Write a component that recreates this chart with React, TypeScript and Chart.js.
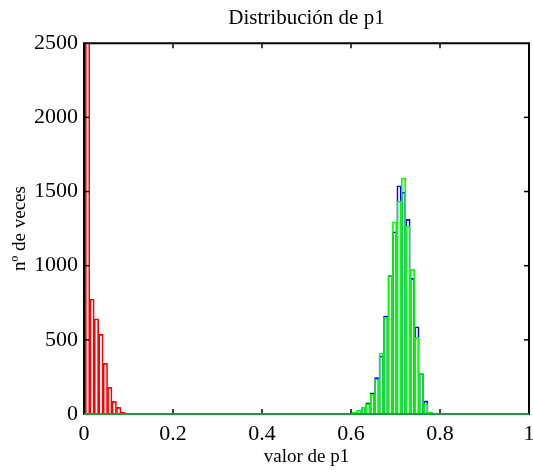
import React, { useEffect, useRef } from 'react';
import { Chart, registerables } from 'chart.js';

Chart.register(...registerables);

// Histogram bin centres (value of p1) and counts per bin
const redBins = [0.008, 0.018, 0.028, 0.038, 0.048, 0.058, 0.068, 0.078, 0.088, 0.098, 0.108];
const redCounts = [7375, 775, 642, 537, 341, 180, 85, 45, 13, 5, 2];

const peakBins = [0.588, 0.598, 0.608, 0.618, 0.628, 0.638, 0.648, 0.658, 0.668, 0.678,
  0.688, 0.698, 0.708, 0.718, 0.728, 0.738, 0.748, 0.758, 0.768, 0.778];
const blueCounts = [2, 5, 11, 27, 47, 76, 143, 245, 391, 660,
  934, 1229, 1539, 1496, 1312, 914, 588, 274, 88, 11];
const greenCounts = [2, 4, 11, 27, 45, 69, 133, 236, 411, 651,
  937, 1296, 1435, 1593, 1269, 975, 517, 276, 70, 11];

const xTicks = [0, 0.2, 0.4, 0.6, 0.8, 1];
const yTicks = [0, 500, 1000, 1500, 2000, 2500];

const titleText = 'Distribución de p1';
const xLabel = 'valor de p1';
const yLabel = 'nº de veces';

const FONT = "'Liberation Serif', 'Times New Roman', Times, serif";

const boxPlugin = {
  id: 'matlabBox',
  afterDraw(chart: any) {
    const { ctx, chartArea: a, scales } = chart;
    const line = (x1: number, y1: number, x2: number, y2: number) => {
      ctx.beginPath();
      ctx.moveTo(x1, y1);
      ctx.lineTo(x2, y2);
      ctx.stroke();
    };
    ctx.save();
    ctx.strokeStyle = '#000';
    ctx.lineWidth = 1.5;
    const tl = 5;
    xTicks.slice(1, -1).forEach((v) => {
      const px = scales.x.getPixelForValue(v);
      line(px, a.bottom, px, a.bottom - tl);
      line(px, a.top, px, a.top + tl);
    });
    yTicks.slice(1, -1).forEach((v) => {
      const py = scales.y.getPixelForValue(v);
      line(a.left, py, a.left + tl, py);
      line(a.right, py, a.right - tl, py);
    });
    ctx.lineWidth = 2;
    ctx.strokeStyle = '#000';
    line(a.left, a.bottom + 1, a.left, a.top);
    line(a.left - 1, a.top, a.right + 1, a.top);
    line(a.right, a.top, a.right, a.bottom + 1);
    ctx.strokeStyle = '#1e9a3c';
    line(a.left, a.bottom, a.right, a.bottom);
    ctx.restore();
  },
};

export default function App() {
  const ref = useRef<HTMLCanvasElement | null>(null);

  useEffect(() => {
    document.body.style.margin = '0';
    if (!ref.current) return;
    const common = {
      type: 'bar' as const,
      backgroundColor: 'rgba(255,255,255,0)',
      borderWidth: 1,
      grouped: false,
      barPercentage: 1,
      categoryPercentage: 1,
      clip: 0,
    };
    const chart = new Chart(ref.current, {
      type: 'bar',
      data: {
        datasets: [
          {
            ...common,
            label: 'red',
            data: redBins.map((x, i) => ({ x, y: redCounts[i] })),
            borderColor: '#ff0000',
            order: 2,
          },
          {
            ...common,
            label: 'blue',
            data: peakBins.map((x, i) => ({ x, y: blueCounts[i] })),
            borderColor: '#0000ff',
            order: 1,
          },
          {
            ...common,
            label: 'green',
            data: peakBins.map((x, i) => ({ x, y: greenCounts[i] })),
            borderColor: '#00ff00',
            order: 0,
          },
        ] as any,
      },
      options: {
        responsive: false,
        animation: false,
        layout: { padding: { left: 0, right: 4, top: 0, bottom: 0 } },
        plugins: {
          legend: { display: false },
          tooltip: { enabled: false },
          title: {
            display: true,
            text: titleText,
            color: '#000',
            fullSize: false,
            font: { family: FONT, size: 21, weight: 'normal' },
            padding: { top: 6, bottom: 12 },
          },
        },
        scales: {
          x: {
            type: 'linear',
            min: 0,
            max: 1,
            offset: false,
            afterBuildTicks: (s: any) => {
              s.ticks = xTicks.map((v) => ({ value: v }));
            },
            afterFit: (s: any) => {
              s.height = 60;
              s.paddingLeft = 0;
              s.paddingRight = 0;
            },
            ticks: {
              color: '#000',
              font: { family: FONT, size: 22 },
              padding: 7,
              maxRotation: 0,
              autoSkip: false,
              callback: (v: any) => String(v),
            },
            grid: { display: false, drawTicks: false, offset: false },
            border: { display: false },
            title: {
              display: true,
              text: xLabel,
              color: '#000',
              font: { family: FONT, size: 19 },
              padding: { top: 0, bottom: 6 },
            },
          },
          y: {
            type: 'linear',
            min: 0,
            max: 2500,
            afterBuildTicks: (s: any) => {
              s.ticks = yTicks.map((v) => ({ value: v }));
            },
            afterFit: (s: any) => {
              s.width = 84;
              s.paddingTop = 0;
              s.paddingBottom = 0;
            },
            ticks: {
              color: '#000',
              font: { family: FONT, size: 22 },
              padding: 6,
              autoSkip: false,
              callback: (v: any) => String(v),
            },
            grid: { display: false, drawTicks: false },
            border: { display: false },
            title: {
              display: true,
              text: yLabel,
              color: '#000',
              font: { family: FONT, size: 19 },
              padding: { top: 9, bottom: 0 },
            },
          },
        },
      } as any,
      plugins: [boxPlugin],
    });
    return () => chart.destroy();
  }, []);

  return (
    <canvas ref={ref} width={533} height={474} style={{ display: 'block' }} />
  );
}
